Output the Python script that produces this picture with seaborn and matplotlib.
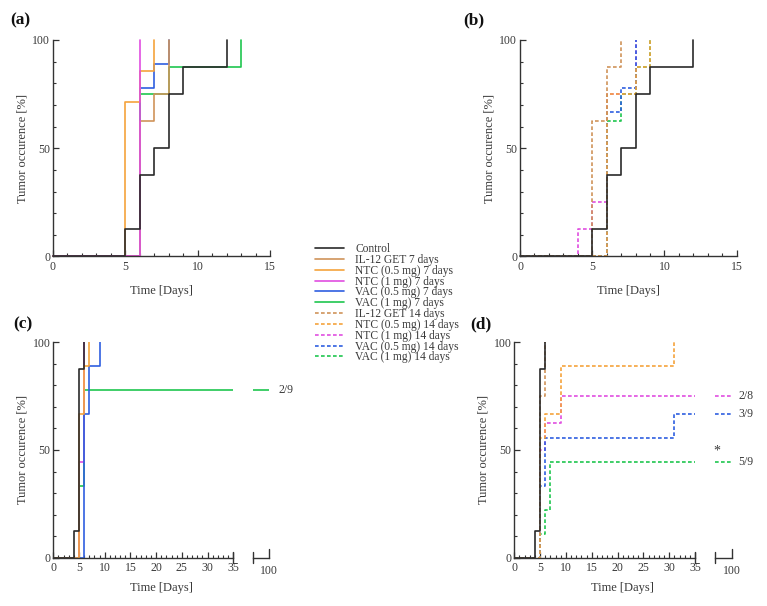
import matplotlib
matplotlib.use("Agg")
import matplotlib.pyplot as plt
from matplotlib.lines import Line2D
from matplotlib.ticker import MultipleLocator, FixedLocator, NullLocator
import seaborn as sns
import pandas as pd

sns.set_theme(style="white")
plt.rcParams['font.family'] = ['Liberation Serif', 'DejaVu Serif']

# ---------------- data ----------------
SERIES = ["Control", "IL-12 GET 7 days", "NTC (0.5 mg) 7 days", "NTC (1 mg) 7 days",
          "VAC (0.5 mg) 7 days", "VAC (1 mg) 7 days", "IL-12 GET 14 days",
          "NTC (0.5 mg) 14 days", "NTC (1 mg) 14 days", "VAC (0.5 mg) 14 days",
          "VAC (1 mg) 14 days"]

# Panel (a): 7-day groups, 0-15 days
A_CONTROL_DAYS = [0, 5, 6, 7, 8, 9, 12]
A_CONTROL_PCT = [0, 12.5, 37.5, 50, 75, 87.5, 100]
A_IL12_DAYS = [0, 6, 7, 8]
A_IL12_PCT = [0, 62.5, 75, 100]
A_NTC05_DAYS = [0, 5, 6, 7]
A_NTC05_PCT = [0, 71.4, 85.7, 100]
A_NTC1_DAYS = [0, 6]
A_NTC1_PCT = [0, 100]
A_VAC05_DAYS = [0, 6, 7, 8]
A_VAC05_PCT = [0, 77.8, 88.9, 100]
A_VAC1_DAYS = [0, 6, 8, 13]
A_VAC1_PCT = [0, 75, 87.5, 100]

# Panel (b): 14-day groups, 0-15 days
B_CONTROL_DAYS = [0, 5, 6, 7, 8, 9, 12]
B_CONTROL_PCT = [0, 12.5, 37.5, 50, 75, 87.5, 100]
B_IL12_DAYS = [0, 5, 6, 7]
B_IL12_PCT = [0, 62.5, 87.5, 100]
B_NTC05_DAYS = [0, 6, 8, 9]
B_NTC05_PCT = [0, 75, 87.5, 100]
B_NTC1_DAYS = [0, 4, 5, 6, 8]
B_NTC1_PCT = [0, 12.5, 25, 75, 100]
B_VAC05_DAYS = [0, 6, 7, 8]
B_VAC05_PCT = [0, 66.7, 77.8, 100]
B_VAC1_DAYS = [0, 6, 7, 8, 9]
B_VAC1_PCT = [0, 62.5, 75, 87.5, 100]

# Panel (c): 7-day groups, 0-100 days
C_CONTROL_DAYS = [0, 4, 5, 6]
C_CONTROL_PCT = [0, 12.5, 87.5, 100]
C_NTC05_DAYS = [0, 5, 6, 7]
C_NTC05_PCT = [0, 66.7, 88.9, 100]
C_NTC1_DAYS = [0, 5, 6]
C_NTC1_PCT = [0, 44.4, 100]
C_VAC05_DAYS = [0, 6, 7, 9]
C_VAC05_PCT = [0, 66.7, 88.9, 100]
C_VAC1_DAYS = [0, 5, 6, 100]
C_VAC1_PCT = [0, 33.3, 77.8, 77.8]

# Panel (d): 14-day groups, 0-100 days
D_CONTROL_DAYS = [0, 4, 5, 6]
D_CONTROL_PCT = [0, 12.5, 87.5, 100]
D_IL12_DAYS = [0, 5, 6]
D_IL12_PCT = [0, 75, 100]
D_NTC05_DAYS = [0, 5, 6, 9, 31]
D_NTC05_PCT = [0, 55.6, 66.7, 88.9, 100]
D_NTC1_DAYS = [0, 5, 6, 9, 100]
D_NTC1_PCT = [0, 50, 62.5, 75, 75]
D_VAC05_DAYS = [0, 5, 6, 31, 100]
D_VAC05_PCT = [0, 33.3, 55.6, 66.7, 66.7]
D_VAC1_DAYS = [0, 5, 6, 7, 100]
D_VAC1_PCT = [0, 11.1, 22.2, 44.4, 44.4]

C_ANNOT = [("2/9", 77.8)]
D_ANNOT = [("2/8", 75.0), ("3/9", 66.7), ("5/9", 44.4)]

# ---------------- styles ----------------
COL = {
    "Control": "#2a2a2a",
    "IL-12": "#cf935a",
    "NTC05": "#f5a33c",
    "NTC1": "#e04ee0",
    "VAC05": "#2f5fe0",
    "VAC1": "#1fc64f",
}
DASH = (0, (2.2, 1.4))
STYLE = {
    "Control": (COL["Control"], "-"),
    "IL-12 GET 7 days": (COL["IL-12"], "-"),
    "NTC (0.5 mg) 7 days": (COL["NTC05"], "-"),
    "NTC (1 mg) 7 days": (COL["NTC1"], "-"),
    "VAC (0.5 mg) 7 days": (COL["VAC05"], "-"),
    "VAC (1 mg) 7 days": (COL["VAC1"], "-"),
    "IL-12 GET 14 days": (COL["IL-12"], DASH),
    "NTC (0.5 mg) 14 days": (COL["NTC05"], DASH),
    "NTC (1 mg) 14 days": (COL["NTC1"], DASH),
    "VAC (0.5 mg) 14 days": (COL["VAC05"], DASH),
    "VAC (1 mg) 14 days": (COL["VAC1"], DASH),
}
LW = 1.2


def make_df(pairs):
    rows = []
    for name, days, pct in pairs:
        for d, p in zip(days, pct):
            rows.append({"series": name, "day": d, "pct": p})
    return pd.DataFrame(rows)


DF_A = make_df([
    ("VAC (0.5 mg) 7 days", A_VAC05_DAYS, A_VAC05_PCT),
    ("VAC (1 mg) 7 days", A_VAC1_DAYS, A_VAC1_PCT),
    ("NTC (0.5 mg) 7 days", A_NTC05_DAYS, A_NTC05_PCT),
    ("IL-12 GET 7 days", A_IL12_DAYS, A_IL12_PCT),
    ("NTC (1 mg) 7 days", A_NTC1_DAYS, A_NTC1_PCT),
    ("Control", A_CONTROL_DAYS, A_CONTROL_PCT),
])
DF_B = make_df([
    ("NTC (1 mg) 14 days", B_NTC1_DAYS, B_NTC1_PCT),
    ("VAC (1 mg) 14 days", B_VAC1_DAYS, B_VAC1_PCT),
    ("VAC (0.5 mg) 14 days", B_VAC05_DAYS, B_VAC05_PCT),
    ("NTC (0.5 mg) 14 days", B_NTC05_DAYS, B_NTC05_PCT),
    ("IL-12 GET 14 days", B_IL12_DAYS, B_IL12_PCT),
    ("Control", B_CONTROL_DAYS, B_CONTROL_PCT),
])
DF_C = make_df([
    ("VAC (1 mg) 7 days", C_VAC1_DAYS, C_VAC1_PCT),
    ("NTC (1 mg) 7 days", C_NTC1_DAYS, C_NTC1_PCT),
    ("VAC (0.5 mg) 7 days", C_VAC05_DAYS, C_VAC05_PCT),
    ("NTC (0.5 mg) 7 days", C_NTC05_DAYS, C_NTC05_PCT),
    ("Control", C_CONTROL_DAYS, C_CONTROL_PCT),
])
DF_D = make_df([
    ("IL-12 GET 14 days", D_IL12_DAYS, D_IL12_PCT),
    ("NTC (1 mg) 14 days", D_NTC1_DAYS, D_NTC1_PCT),
    ("VAC (1 mg) 14 days", D_VAC1_DAYS, D_VAC1_PCT),
    ("VAC (0.5 mg) 14 days", D_VAC05_DAYS, D_VAC05_PCT),
    ("NTC (0.5 mg) 14 days", D_NTC05_DAYS, D_NTC05_PCT),
    ("Control", D_CONTROL_DAYS, D_CONTROL_PCT),
])


def draw(ax, df, clip=True):
    for name in df["series"].unique():
        sub = df[df["series"] == name]
        color, ls = STYLE[name]
        sns.lineplot(data=sub, x="day", y="pct", ax=ax, color=color,
                     linestyle=ls, linewidth=LW, drawstyle="steps-post",
                     estimator=None, sort=False, legend=False, clip_on=clip)


SPINE = "#333333"
TICKC = "#3a3a3a"


def style_main(ax, xmax):
    ax.set_xlim(0, xmax)
    ax.set_ylim(0, 100)
    for s in ["top", "right"]:
        ax.spines[s].set_visible(False)
    for s in ["left", "bottom"]:
        ax.spines[s].set_color(SPINE)
        ax.spines[s].set_linewidth(1.0)
    ax.yaxis.set_major_locator(FixedLocator([0, 50, 100]))
    ax.yaxis.set_minor_locator(MultipleLocator(10))
    ax.xaxis.set_major_locator(MultipleLocator(5))
    ax.xaxis.set_minor_locator(MultipleLocator(1))
    ax.tick_params(which="both", bottom=True, left=True, top=False, right=False)
    ax.tick_params(which="major", direction="in", length=4, width=0.9,
                   color=SPINE, labelsize=8.5, labelcolor=TICKC, pad=3)
    ax.tick_params(which="minor", direction="in", length=2.2, width=0.8,
                   color=SPINE)
    ax.tick_params(axis="y", which="major", pad=2)
    ax.set_ylabel("Tumor occurence [%]", fontsize=9, color=TICKC, labelpad=3)
    ax.set_xlabel("Time [Days]", fontsize=9, color=TICKC)
    ax.grid(False)
    ax.set_facecolor("none")


fig = plt.figure(figsize=(7.67, 6.06), dpi=100)
W, H = 767.0, 606.0

axA = fig.add_axes([53 / W, 1 - 256.5 / H, 217 / W, 216.5 / H])
axB = fig.add_axes([520 / W, 1 - 256.5 / H, 216.7 / W, 216.5 / H])
axC = fig.add_axes([53.3 / W, 1 - 557.7 / H, 180 / W, 215.4 / H])
axC2 = fig.add_axes([253.3 / W, 1 - 557.7 / H, 16 / W, 215.4 / H])
axD = fig.add_axes([514.3 / W, 1 - 557.7 / H, 180.7 / W, 215.4 / H])
axD2 = fig.add_axes([715 / W, 1 - 557.7 / H, 16.7 / W, 215.4 / H])

draw(axA, DF_A, clip=False)
draw(axB, DF_B, clip=False)
draw(axC, DF_C)
draw(axC2, DF_C)
draw(axD, DF_D)
draw(axD2, DF_D)

for ax in (axA, axB):
    style_main(ax, 15)
    ax.xaxis.set_label_coords(0.5, -0.13)
for ax in (axC, axD):
    style_main(ax, 35)
    ax.xaxis.set_label_coords((161 - 53.3) / 180, -0.112)
    ax.axvline(35, ymin=-0.025, ymax=0.025, color=SPINE, lw=1.0, clip_on=False)

for ax in (axC2, axD2):
    ax.set_xlim(96.9, 100)
    ax.set_ylim(0, 100)
    for s in ["top", "right", "left"]:
        ax.spines[s].set_visible(False)
    ax.spines["bottom"].set_color(SPINE)
    ax.spines["bottom"].set_linewidth(1.0)
    ax.xaxis.set_major_locator(FixedLocator([100]))
    ax.xaxis.set_minor_locator(NullLocator())
    ax.yaxis.set_major_locator(NullLocator())
    ax.yaxis.set_minor_locator(NullLocator())
    ax.tick_params(axis="x", which="major", bottom=True, direction="in", length=0,
                   labelsize=8.5, labelcolor=TICKC, pad=5)
    ax.axvline(100, ymin=0, ymax=0.04, color=SPINE, lw=1.0, clip_on=False)
    ax.axvline(96.9, ymin=-0.025, ymax=0.025, color=SPINE, lw=1.0, clip_on=False)
    ax.set_xlabel("")
    ax.set_ylabel("")
    ax.grid(False)
    ax.set_facecolor("none")

axD.xaxis.set_label_coords((622.5 - 514.3) / 180.7, -0.112)

for txt, val in C_ANNOT:
    axC2.annotate(txt, xy=(100, val), xytext=(6.5, 0), textcoords="offset points",
                  fontsize=8.5, color=TICKC, va="center", ha="left",
                  annotation_clip=False)
for txt, val in D_ANNOT:
    axD2.annotate(txt, xy=(100, val), xytext=(5, 0), textcoords="offset points",
                  fontsize=8.5, color=TICKC, va="center", ha="left",
                  annotation_clip=False)
axD2.annotate("*", xy=(96.9 + 0.3, 44.4), xytext=(0, 3), textcoords="offset points",
              fontsize=10, color=TICKC, va="bottom", ha="center",
              annotation_clip=False)

# panel labels
for lbl, x, y in [("(a)", 10, 20), ("(b)", 463, 20), ("(c)", 13, 324), ("(d)", 470, 324)]:
    fig.text(x / W, 1 - y / H, lbl, fontsize=12.5, fontweight="bold",
             ha="left", va="center", color="#111111")

# legend
handles = []
for name in SERIES:
    color, ls = STYLE[name]
    handles.append(Line2D([0], [0], color=color, linestyle=ls, linewidth=LW, label=name))
fig.legend(handles=handles, loc="upper left", bbox_to_anchor=(315 / W, 1 - 243 / H),
           frameon=False, fontsize=8.3, borderpad=0, borderaxespad=0,
           handlelength=2.5, handletextpad=1.0, labelspacing=-0.1,
           labelcolor=TICKC)

fig.savefig("out.png", dpi=100)
